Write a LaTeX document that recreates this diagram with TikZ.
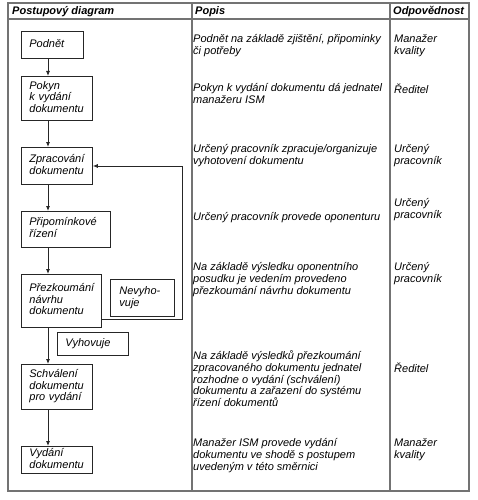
\documentclass[tikz,border=0pt]{standalone}
\usepackage{fontspec}
\setmainfont{Liberation Sans}
\usetikzlibrary{arrows.meta}
\begin{document}
\begin{tikzpicture}[x=1pt,y=-1pt,
  tab/.style={draw=black!55,line width=1.1pt},
  txt/.style={anchor=north west,inner sep=0pt,align=left,
    font={\fontsize{11}{11.7}\selectfont\itshape},execute at begin node=\strut},
  hdr/.style={anchor=west,inner sep=0pt,font={\fontsize{11}{12}\selectfont\bfseries\itshape}},
  box/.style={draw=black!85,line width=0.8pt,anchor=north west,inner xsep=8pt,inner ysep=0pt,
    align=left,font={\fontsize{11}{11.7}\selectfont\itshape},
    execute at begin node=\strut,execute at end node=\strut},
  arr/.style={draw=black!85,line width=0.8pt,-{Latex[length=5pt,width=4pt]}}]
\useasboundingbox (0,0) rectangle (478,500);
% table
\draw[tab] (8,3) rectangle (469,491);
\draw[tab] (8,19) -- (469,19);
\draw[tab] (192,3) -- (192,491);
\draw[tab] (390,3) -- (390,491);
\node[hdr] (h1) at (12,12) {Postupový diagram};
\node[hdr] (h2) at (195,12) {Popis};
\node[hdr] (h3) at (393,12) {Odpovědnost};
% boxes
\node[box,minimum width=62pt,minimum height=27pt,text width=46pt] (podnet) at (21,31) {Podnět};
\node[box,minimum width=71pt,minimum height=44pt,text width=55pt] (pokyn) at (21,76) {Pokyn\\k vydání\\dokumentu};
\node[box,minimum width=71pt,minimum height=37pt,text width=55pt] (zprac) at (21,147) {Zpracování\\dokumentu};
\node[box,minimum width=89pt,minimum height=36pt,text width=73pt] (pripom) at (21,211) {Připomínkové\\řízení};
\node[box,minimum width=80pt,minimum height=53pt,text width=64pt] (prezk) at (21,274) {Přezkoumání\\návrhu\\dokumentu};
\node[box,minimum width=64pt,minimum height=37pt,text width=46pt,inner xsep=9pt] (nevyh) at (110,279) {Nevyho-\\vuje};
\node[box,minimum width=71pt,minimum height=23pt,text width=55pt] (vyhov) at (57,332) {Vyhovuje};
\node[box,minimum width=71pt,minimum height=45pt,text width=55pt] (schval) at (21,364) {Schválení\\dokumentu\\pro vydání};
\node[box,minimum width=71pt,minimum height=27pt,text width=55pt] (vydani) at (21,446) {Vydání\\dokumentu};
% arrows
\coordinate (ax) at (48,0);
\draw[arr] (podnet.south -| ax) -- (pokyn.north -| ax);
\draw[arr] (pokyn.south -| ax) -- (zprac.north -| ax);
\draw[arr] (zprac.south -| ax) -- (pripom.north -| ax);
\draw[arr] (pripom.south -| ax) -- (prezk.north -| ax);
\draw[arr] (prezk.south -| ax) -- (schval.north -| ax);
\draw[arr] (schval.south -| ax) -- (vydani.north -| ax);
\coordinate (c1) at (182,319);
\coordinate (c2) at (182,166);
\draw[arr] (c1 -| prezk.east) -- (c1) -- (c2) -- (c2 -| zprac.east);
% descriptions
\node[txt] (p1) at (193,34.6) {Podnět na základě zjištění, připominky\\či potřeby};
\node[txt] (p2) at (193,83.6) {Pokyn k vydání dokumentu dá jednatel\\manažeru ISM};
\node[txt] (p3) at (193,144.6) {Určený pracovník zpracuje/organizuje\\vyhotovení dokumentu};
\node[txt] (p4) at (193,212.6) {Určený pracovník provede oponenturu};
\node[txt] (p5) at (193,262.6) {Na základě výsledku oponentního\\posudku je vedením provedeno\\přezkoumání návrhu dokumentu};
\node[txt] (p6) at (193,350.6) {Na základě výsledků přezkoumání\\zpracovaného dokumentu jednatel\\rozhodne o vydání (schválení)\\dokumentu a zařazení do systému\\řízení dokumentů};
\node[txt] (p7) at (193,438.6) {Manažer ISM provede vydání\\dokumentu ve shodě s postupem\\uvedeným v této směrnici};
% responsibilities
\node[txt] (o1) at (394,34.6) {Manažer\\kvality};
\node[txt] (o2) at (394,83.6) {Ředitel};
\node[txt] (o3) at (394,144.6) {Určený\\pracovník};
\node[txt] (o4) at (394,198.6) {Určený\\pracovník};
\node[txt] (o5) at (394,262.6) {Určený\\pracovník};
\node[txt] (o6) at (394,362.6) {Ředitel};
\node[txt] (o7) at (394,438.6) {Manažer\\kvality};
\end{tikzpicture}
\end{document}
